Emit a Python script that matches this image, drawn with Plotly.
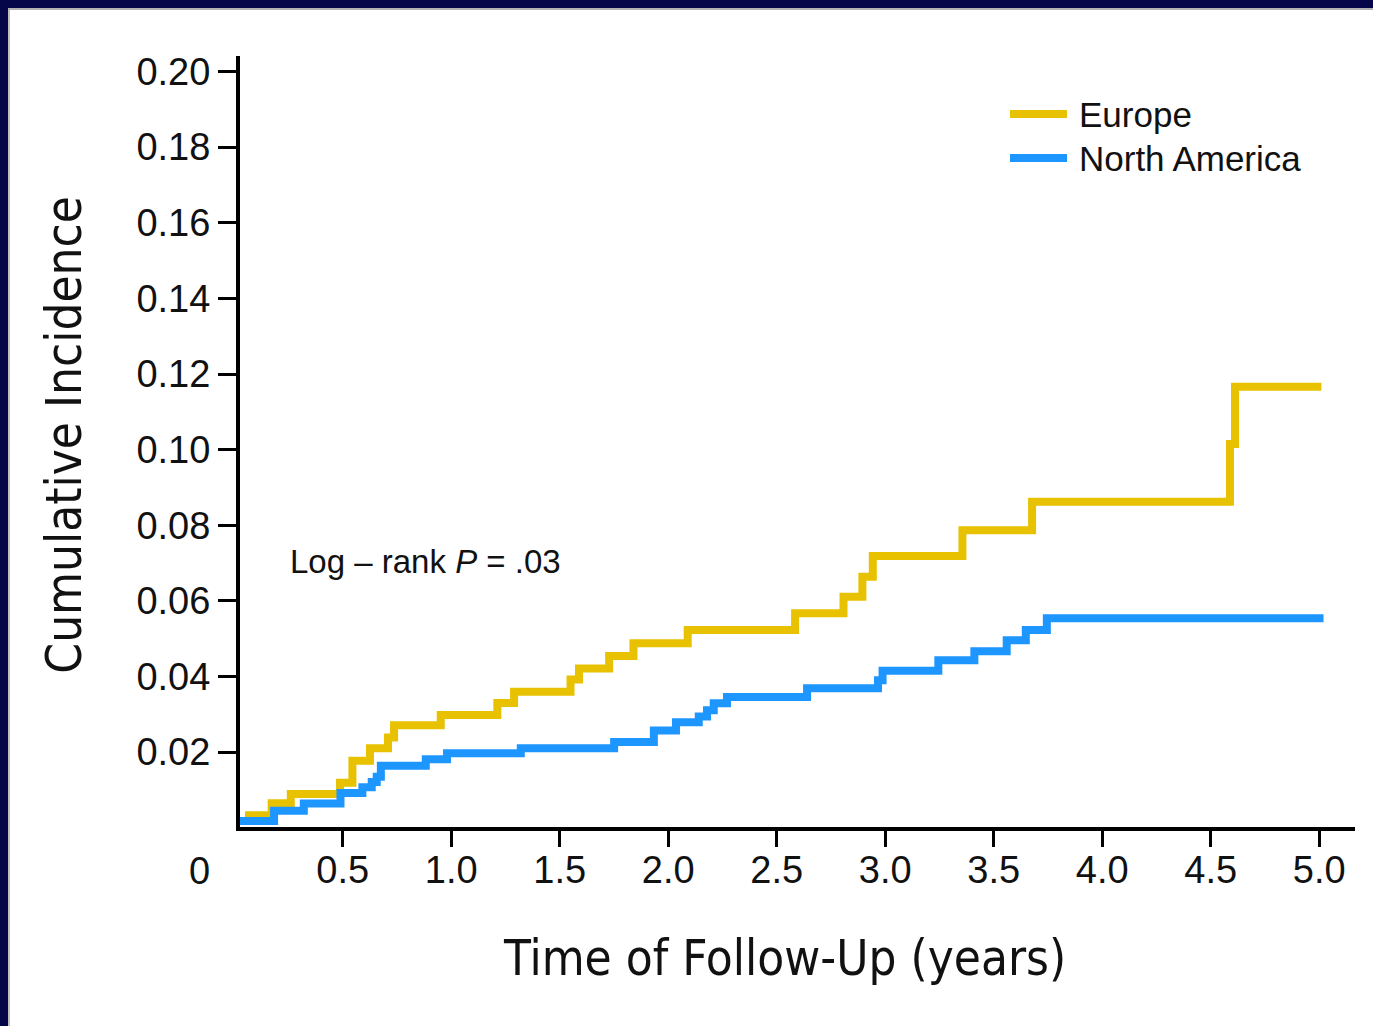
import plotly.graph_objects as go

# ---------------- data ----------------
europe_time = [0.05, 0.173, 0.261, 0.488, 0.545, 0.626, 0.709, 0.737, 0.952, 1.213,
               1.290, 1.550, 1.589, 1.728, 1.840, 2.090, 2.585, 2.808, 2.895, 2.943,
               3.356, 3.677, 4.589, 4.612, 5.01]
europe_inc = [0.0033, 0.0065, 0.0089, 0.0119, 0.0177, 0.0210, 0.0239, 0.0271, 0.0298, 0.0330,
              0.0360, 0.0392, 0.0421, 0.0454, 0.0488, 0.0523, 0.0567, 0.0611, 0.0664, 0.0719,
              0.0787, 0.0862, 0.1015, 0.1166, 0.1166]

na_time = [0.027, 0.184, 0.321, 0.490, 0.591, 0.634, 0.657, 0.676, 0.883, 0.981,
           1.321, 1.751, 1.934, 2.036, 2.141, 2.179, 2.210, 2.271, 2.640, 2.967,
           2.988, 3.245, 3.411, 3.560, 3.648, 3.745, 5.02]
na_inc = [0.0018, 0.0045, 0.0064, 0.0092, 0.0107, 0.0121, 0.0135, 0.0164, 0.0181, 0.0197,
          0.0210, 0.0227, 0.0257, 0.0279, 0.0294, 0.0311, 0.0329, 0.0346, 0.0369, 0.0390,
          0.0415, 0.0443, 0.0467, 0.0496, 0.0523, 0.0554, 0.0554]

x_ticks = [0.5, 1.0, 1.5, 2.0, 2.5, 3.0, 3.5, 4.0, 4.5, 5.0]
x_tick_labels = ["0.5", "1.0", "1.5", "2.0", "2.5", "3.0", "3.5", "4.0", "4.5", "5.0"]
y_ticks = [0.02, 0.04, 0.06, 0.08, 0.10, 0.12, 0.14, 0.16, 0.18, 0.20]
y_tick_labels = ["0.02", "0.04", "0.06", "0.08", "0.10", "0.12", "0.14", "0.16", "0.18", "0.20"]

series_names = ["Europe", "North America"]
series_colors = ["#E8C200", "#1E96FF"]

# ---------------- layout geometry ----------------
W, H = 1373, 1026
L, R, T, B = 240, 1355, 56, 826.7
PW, PH = R - L, B - T
NAVY = "#05054A"


def xp(px):
    """figure pixel x -> paper coordinate"""
    return (px - L) / PW


def yp(py):
    """figure pixel y -> paper coordinate"""
    return (B - py) / PH


SANS = "Liberation Sans, Arial, Helvetica, sans-serif"
NARROW = "Liberation Sans Narrow, Arial Narrow, DejaVu Sans Condensed, sans-serif"

fig = go.Figure()
fig.add_trace(go.Scatter(x=europe_time, y=europe_inc, mode="lines", line_shape="hv",
                         name=series_names[0], line=dict(color=series_colors[0], width=8),
                         showlegend=False))
fig.add_trace(go.Scatter(x=na_time, y=na_inc, mode="lines", line_shape="hv",
                         name=series_names[1], line=dict(color=series_colors[1], width=8),
                         showlegend=False))

shapes = []
annotations = []

# custom legend
for i, (name, col) in enumerate(zip(series_names, series_colors)):
    cy = 114 + 44 * i
    shapes.append(dict(type="line", xref="paper", yref="paper",
                       x0=xp(1010), x1=xp(1067), y0=yp(cy), y1=yp(cy),
                       line=dict(color=col, width=8)))
    annotations.append(dict(text=name, xref="paper", yref="paper", x=xp(1077), y=yp(cy),
                            xanchor="left", yanchor="middle", showarrow=False,
                            font=dict(family=SANS, size=35, color="#111")))

# dark frame along top and left edges
shapes.append(dict(type="rect", xref="paper", yref="paper", x0=xp(0), x1=xp(W), y0=yp(0), y1=yp(8),
                   fillcolor=NAVY, line=dict(width=0), layer="above"))
shapes.append(dict(type="rect", xref="paper", yref="paper", x0=xp(0), x1=xp(8), y0=yp(0), y1=yp(H),
                   fillcolor=NAVY, line=dict(width=0), layer="above"))
shapes.append(dict(type="line", xref="paper", yref="paper", x0=xp(8), x1=xp(W), y0=yp(9), y1=yp(9),
                   line=dict(color="#999", width=1.5)))
shapes.append(dict(type="line", xref="paper", yref="paper", x0=xp(9), x1=xp(9), y0=yp(9), y1=yp(H),
                   line=dict(color="#aaa", width=1.5)))

annotations += [
    dict(text="0", xref="paper", yref="paper", x=xp(199), y=yp(871), xanchor="center",
         yanchor="middle", showarrow=False, font=dict(family=SANS, size=38, color="#111")),
    dict(text="Log \u2013 rank <i>P</i> = .03", xref="paper", yref="paper", x=xp(288), y=yp(561),
         xanchor="left", yanchor="middle", showarrow=False, font=dict(family=SANS, size=33, color="#111")),
    dict(text="Cumulative Incidence", xref="paper", yref="paper", x=xp(65), y=yp(434.5),
         xanchor="center", yanchor="middle", textangle=-90, showarrow=False,
         font=dict(family=NARROW, size=49, color="#111")),
    dict(text="Time of Follow-Up (years)", xref="paper", yref="paper", x=xp(784), y=yp(958),
         xanchor="center", yanchor="middle", showarrow=False,
         font=dict(family=NARROW, size=49, color="#111")),
]

fig.update_layout(
    width=W, height=H,
    margin=dict(l=L, r=W - R, t=T, b=H - B, pad=0),
    paper_bgcolor="white", plot_bgcolor="white",
    shapes=shapes, annotations=annotations,
    showlegend=False,
)
fig.update_xaxes(range=[0.027, 5.165], showgrid=False, zeroline=False,
                 showline=True, linecolor="#000", linewidth=4,
                 ticks="outside", ticklen=16, tickwidth=3, tickcolor="#000",
                 tickvals=x_ticks, ticktext=x_tick_labels, ticklabelstandoff=-10,
                 tickfont=dict(family=SANS, size=38, color="#111"))
fig.update_yaxes(range=[0.0002, 0.2041], showgrid=False, zeroline=False,
                 showline=True, linecolor="#000", linewidth=4,
                 ticks="outside", ticklen=18, tickwidth=3, tickcolor="#000",
                 tickvals=y_ticks, ticktext=y_tick_labels,
                 tickfont=dict(family=SANS, size=38, color="#111"))

# remove the browser's default page margin so the figure fills the window
fig.write_html("out.html", config={"displayModeBar": False},
               post_script="document.body.style.margin='0';")
